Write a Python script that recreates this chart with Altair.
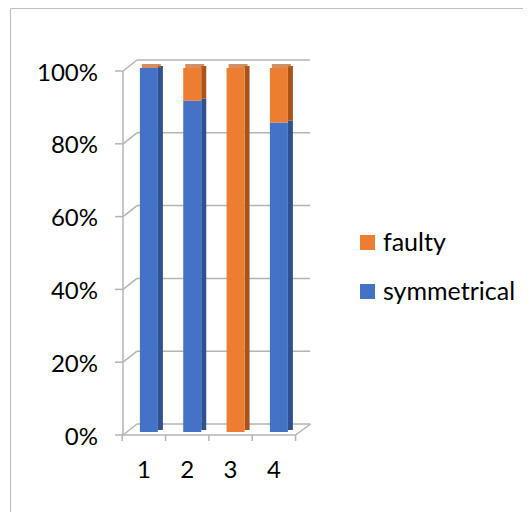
import altair as alt
import pandas as pd

# ---- data ----
categories = [1, 2, 3, 4]
category_labels = ["1", "2", "3", "4"]
symmetrical = [100, 91, 0, 85]
faulty = [0, 9, 100, 15]
series_names = ["faulty", "symmetrical"]
series_colors = ["#ED7D31", "#4472C4"]
tick_values = [0.0, 0.2, 0.4, 0.6, 0.8, 1.0]
tick_labels = ["0%", "20%", "40%", "60%", "80%", "100%"]

FONT = "Lato"
GRID = "#b4b4b4"

rows = []
for c, s, f in zip(categories, symmetrical, faulty):
    rows.append({"cat": c, "series": "symmetrical", "value": s})
    rows.append({"cat": c, "series": "faulty", "value": f})
df = pd.DataFrame(rows)

lo, hi = tick_values[0], tick_values[-1]
bounds = [c - 0.5 for c in categories] + [categories[-1] + 0.5]
ticks_df = pd.DataFrame({"val": tick_values, "label": tick_labels})
cats_df = pd.DataFrame({"cat": categories, "label": category_labels, "lo": lo})
bounds_df = pd.DataFrame({"b": bounds, "lo": lo})
frame_df = pd.DataFrame({"lo": [lo], "hi": [hi], "b0": [bounds[0]], "b1": [bounds[-1]]})

xs = alt.Scale(domain=[1, 4], range=[25.9, 155.9], nice=False, zero=False, padding=0)
ys = alt.Scale(domain=[0, 1], range=[372, 8], nice=False, zero=False, padding=0)

base = (
    alt.Chart(df)
    .transform_calculate(order="datum.series == 'symmetrical' ? 0 : 1")
    .transform_stack(stack="value", groupby=["cat"], as_=["y0", "y1"],
                     sort=[alt.SortField("order")], offset="normalize")
)
X = alt.X("cat:Q", scale=xs, axis=None)
Y = alt.Y("y0:Q", scale=ys, axis=None)
Y2 = alt.Y2("y1:Q")

# back-wall gridlines
grid = alt.Chart(ticks_df).mark_rule(color=GRID, strokeWidth=1.5, yOffset=-8).encode(
    x=alt.value(14), x2=alt.value(187), y=alt.Y("val:Q", scale=ys, axis=None)
)
# diagonals from front axis to back wall
diag = alt.Chart(ticks_df).mark_rule(color=GRID, strokeWidth=1.5, yOffset=3, y2Offset=-8).encode(
    x=alt.value(0), x2=alt.value(14), y=alt.Y("val:Q", scale=ys, axis=None), y2="val:Q"
)
ytick = alt.Chart(ticks_df).mark_rule(color=GRID, strokeWidth=1.5, yOffset=3).encode(
    x=alt.value(-8), x2=alt.value(0), y=alt.Y("val:Q", scale=ys, axis=None)
)
yaxis_line = alt.Chart(frame_df).mark_rule(color=GRID, strokeWidth=1.5, yOffset=3, y2Offset=3).encode(
    x=alt.value(0), y=alt.Y("lo:Q", scale=ys, axis=None), y2="hi:Q"
)
ylabels = alt.Chart(ticks_df).mark_text(
    align="right", baseline="alphabetic", font=FONT, fontSize=24, color="#000000", yOffset=12.5
).encode(x=alt.value(-25), y=alt.Y("val:Q", scale=ys, axis=None), text="label:N")

# floor
floor_front = alt.Chart(frame_df).mark_rule(color=GRID, strokeWidth=1.5, xOffset=-5, x2Offset=-5, yOffset=3).encode(
    x=alt.X("b0:Q", scale=xs, axis=None), x2="b1:Q", y=alt.Y("lo:Q", scale=ys, axis=None)
)
floor_right = alt.Chart(frame_df).mark_rule(
    color=GRID, strokeWidth=1.5, xOffset=-5, x2Offset=10, yOffset=3, y2Offset=-8
).encode(
    x=alt.X("b1:Q", scale=xs, axis=None), x2="b1:Q",
    y=alt.Y("lo:Q", scale=ys, axis=None), y2="lo:Q"
)
xtick = alt.Chart(bounds_df).mark_rule(color=GRID, strokeWidth=1.5, xOffset=-5, yOffset=3, y2Offset=9).encode(
    x=alt.X("b:Q", scale=xs, axis=None), y=alt.Y("lo:Q", scale=ys, axis=None), y2="lo:Q"
)
xlabels = alt.Chart(cats_df).mark_text(
    align="center", baseline="alphabetic", font=FONT, fontSize=24, color="#000000", xOffset=-5, yOffset=46
).encode(x=alt.X("cat:Q", scale=xs, axis=None), y=alt.Y("lo:Q", scale=ys, axis=None), text="label:N")

# bars: front faces
front = base.mark_bar(width=18).encode(
    x=X, y=Y, y2=Y2,
    color=alt.Color(
        "series:N",
        scale=alt.Scale(domain=series_names, range=series_colors),
        legend=alt.Legend(
            orient="none", legendX=232, legendY=170, title=None,
            symbolType="square", symbolSize=225, symbolStrokeWidth=0,
            labelFont=FONT, labelFontSize=25, labelColor="#000000",
            labelOffset=3, rowPadding=23, padding=0,
        ),
    ),
)
# side faces
side_sym = base.transform_filter("datum.series == 'symmetrical'").mark_bar(
    width=5, xOffset=11.5, yOffset=-2, y2Offset=-2, color="#2F528F"
).encode(x=X, y=Y, y2=Y2)
side_fau = base.transform_filter("datum.series == 'faulty'").mark_bar(
    width=5, xOffset=11.5, yOffset=-2, y2Offset=-2, color="#A9531B"
).encode(x=X, y=Y, y2=Y2)
# top faces
top = base.transform_filter("datum.series == 'faulty'").mark_tick(
    orient="horizontal", thickness=4, size=19, xOffset=2.5, yOffset=-2, color="#C0601E"
).encode(x=X, y=alt.Y("y1:Q", scale=ys, axis=None))

# outer chart border (left and top edges visible)
border_left = alt.Chart(frame_df).mark_rule(color="#bfbfbf", strokeWidth=1.2).encode(
    x=alt.value(-112.5), y=alt.value(-51.5), y2=alt.value(452)
)
border_top = alt.Chart(frame_df).mark_rule(color="#bfbfbf", strokeWidth=1.2).encode(
    x=alt.value(-112.5), x2=alt.value(400), y=alt.value(-51.5)
)

chart = alt.layer(
    border_left, border_top,
    grid, diag, ytick, yaxis_line, ylabels,
    floor_front, floor_right, xtick, xlabels,
    side_sym, side_fau, front, top,
).properties(
    width=400, height=452,
    autosize=alt.AutoSizeParams(type="none"),
    padding={"left": 115, "top": 52, "right": 0, "bottom": 0},
).configure_view(strokeWidth=0)

chart.save("out.html", embed_options={"renderer": "svg", "actions": False})
